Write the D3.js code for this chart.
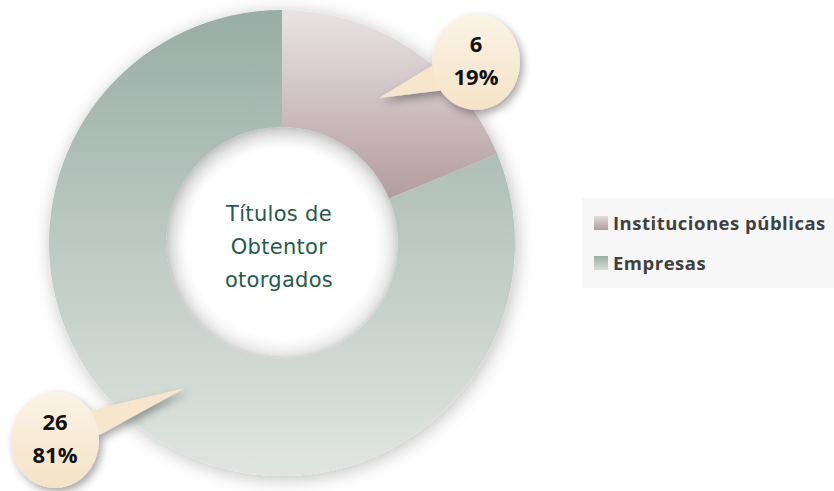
<!DOCTYPE html>
<html>
<head>
<meta charset="utf-8">
<script src="https://cdn.jsdelivr.net/npm/d3@7"></script>
<style>
  body { margin: 0; background: #fff; }
  svg { display: block; }
</style>
</head>
<body>
<div id="chart"></div>
<script>
// data
const categories = ["Instituciones públicas", "Empresas"];
const values = [6, 26];
const centerLines = ["Títulos de", "Obtentor", "otorgados"];

const width = 834, height = 491;
const cx = 282, cy = 243;
const outerR = 233, innerR = 116;

const svg = d3.select("#chart").append("svg")
  .attr("width", width)
  .attr("height", height);

const defs = svg.append("defs");

// soft shadow for the ring
const sh = defs.append("filter").attr("id", "ringShadow")
  .attr("x", "-20%").attr("y", "-20%").attr("width", "140%").attr("height", "140%");
sh.append("feDropShadow").attr("dx", 2).attr("dy", 3).attr("stdDeviation", 9)
  .attr("flood-color", "#000").attr("flood-opacity", 0.25);

const bsh = defs.append("filter").attr("id", "bubbleShadow")
  .attr("x", "-30%").attr("y", "-30%").attr("width", "160%").attr("height", "160%");
bsh.append("feDropShadow").attr("dx", 3).attr("dy", 4).attr("stdDeviation", 4)
  .attr("flood-color", "#000").attr("flood-opacity", 0.35);

// hole: soft grey rim
const hg = defs.append("radialGradient").attr("id", "holeGrad");
hg.append("stop").attr("offset", 0.8).attr("stop-color", "#ffffff");
hg.append("stop").attr("offset", 0.95).attr("stop-color", "#f1f1f1");
hg.append("stop").attr("offset", 1).attr("stop-color", "#e2e2e2");

// gradients (slice colours), in ring-local coordinates
const g1 = defs.append("linearGradient").attr("id", "grad0")
  .attr("gradientUnits", "userSpaceOnUse")
  .attr("x1", 0).attr("y1", -outerR).attr("x2", 0).attr("y2", -45);
g1.append("stop").attr("offset", 0).attr("stop-color", "#e9e3e4");
g1.append("stop").attr("offset", 1).attr("stop-color", "#b39ca0");

const g2 = defs.append("linearGradient").attr("id", "grad1")
  .attr("gradientUnits", "userSpaceOnUse")
  .attr("x1", 0).attr("y1", -outerR).attr("x2", 0).attr("y2", outerR);
g2.append("stop").attr("offset", 0).attr("stop-color", "#98ada5");
g2.append("stop").attr("offset", 1).attr("stop-color", "#e1e5e2");

const bg = defs.append("linearGradient").attr("id", "bubbleGrad")
  .attr("x1", 0).attr("y1", 0).attr("x2", 0).attr("y2", 1);
bg.append("stop").attr("offset", 0).attr("stop-color", "#fbf3e6");
bg.append("stop").attr("offset", 1).attr("stop-color", "#f4e3c6");

const lg0 = defs.append("linearGradient").attr("id", "lgrad0").attr("x1", 0).attr("y1", 0).attr("x2", 0).attr("y2", 1);
lg0.append("stop").attr("offset", 0).attr("stop-color", "#e3dadb");
lg0.append("stop").attr("offset", 1).attr("stop-color", "#b39ca0");
const lg1 = defs.append("linearGradient").attr("id", "lgrad1").attr("x1", 0).attr("y1", 0).attr("x2", 0).attr("y2", 1);
lg1.append("stop").attr("offset", 0).attr("stop-color", "#9aaea6");
lg1.append("stop").attr("offset", 1).attr("stop-color", "#d8dfdb");

const pie = d3.pie().sort(null).value(d => d);
const arcs = pie(values);
const arc = d3.arc().innerRadius(innerR).outerRadius(outerR);

svg.append("circle")
  .attr("cx", cx).attr("cy", cy)
  .attr("r", innerR + 2)
  .attr("fill", "url(#holeGrad)");

const ring = svg.append("g")
  .attr("transform", `translate(${cx},${cy})`)
  .attr("filter", "url(#ringShadow)");

ring.selectAll("path")
  .data(arcs)
  .join("path")
  .attr("d", arc)
  .attr("fill", (d, i) => `url(#grad${i})`);

// center text
svg.append("g").selectAll("text")
  .data(centerLines)
  .join("text")
  .attr("x", cx - 3)
  .attr("y", (d, i) => 221 + i * 33)
  .attr("text-anchor", "middle")
  .attr("font-family", "'DejaVu Sans', sans-serif")
  .attr("font-size", 21)
  .attr("letter-spacing", 0.3)
  .attr("fill", "#235b4e")
  .text(d => d);

// callouts
const total = d3.sum(values);
const fmt = d3.format(".0%");
const bubbleOffsets = [[194, -181], [-227, 197]]; // bubble centre relative to ring centre
const rx = 44, ry = 48;

arcs.forEach((d, i) => {
  const [tx, ty] = arc.centroid(d);
  const bx = bubbleOffsets[i][0], by = bubbleOffsets[i][1];
  const ang = Math.atan2(ty - by, tx - bx);
  const p1 = [bx + rx * Math.cos(ang - 0.28), by + ry * Math.sin(ang - 0.28)];
  const p2 = [bx + rx * Math.cos(ang + 0.28), by + ry * Math.sin(ang + 0.28)];

  const b = svg.append("g")
    .attr("transform", `translate(${cx},${cy})`)
    .attr("filter", "url(#bubbleShadow)");
  b.append("path")
    .attr("d", d3.line()([p1, [tx, ty], p2]) + "Z")
    .attr("fill", "#f6e6cc");
  b.append("ellipse")
    .attr("cx", bx).attr("cy", by)
    .attr("rx", rx).attr("ry", ry)
    .attr("fill", "url(#bubbleGrad)");

  const t = svg.append("g").attr("transform", `translate(${cx + bx},${cy + by})`);
  t.append("text")
    .attr("y", -10)
    .attr("text-anchor", "middle")
    .attr("font-family", "'Open Sans', sans-serif")
    .attr("font-weight", "bold")
    .attr("font-size", 22)
    .attr("fill", "#111")
    .text(d.data);
  t.append("text")
    .attr("y", 23)
    .attr("text-anchor", "middle")
    .attr("font-family", "'Open Sans', sans-serif")
    .attr("font-weight", "bold")
    .attr("font-size", 22)
    .attr("fill", "#111")
    .text(fmt(d.data / total));
});

// legend
const legend = svg.append("g");
legend.append("rect")
  .attr("x", 582).attr("y", 198)
  .attr("width", 252).attr("height", 90)
  .attr("fill", "#f7f7f7");

const lg = legend.selectAll("g.item")
  .data(categories)
  .join("g")
  .attr("class", "item")
  .attr("transform", (d, i) => `translate(594,${216 + i * 40})`);

lg.append("rect")
  .attr("width", 14).attr("height", 14)
  .attr("fill", (d, i) => `url(#lgrad${i})`);

lg.append("text")
  .attr("x", 19)
  .attr("y", 14)
  .attr("font-family", "'Open Sans', sans-serif")
  .attr("font-weight", "bold")
  .attr("font-size", 18.5)
  .attr("letter-spacing", 0.5)
  .attr("fill", "#404040")
  .text(d => d);
</script>
</body>
</html>
